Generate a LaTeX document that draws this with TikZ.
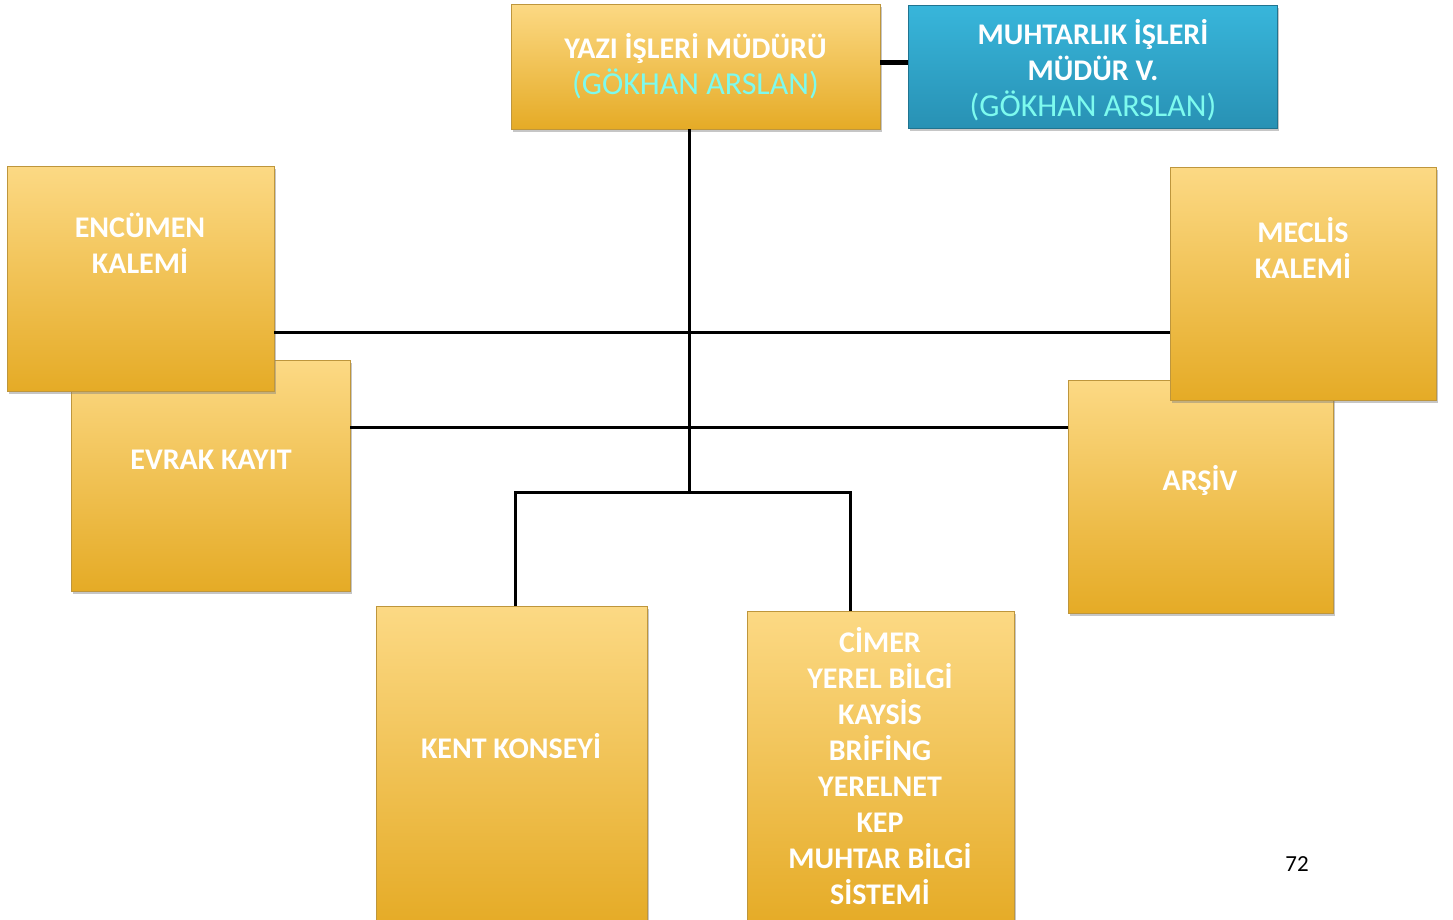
\documentclass[tikz,border=0pt]{standalone}
\usepackage{fontspec}
\setmainfont{Carlito}
\usetikzlibrary{shadows}

\definecolor{boxtop}{RGB}{252,217,132}
\definecolor{boxbot}{RGB}{229,171,38}
\definecolor{boxline}{RGB}{190,150,60}
\definecolor{bluetop}{RGB}{56,182,219}
\definecolor{bluebot}{RGB}{40,145,180}
\definecolor{namecyan}{RGB}{125,250,238}

\newcommand{\personname}[1]{{\mdseries\fontsize{32}{36}\selectfont\color{namecyan}#1}}

\tikzset{
  unitbox/.style={rectangle, draw=boxline, line width=0.8pt, top color=boxtop, bottom color=boxbot,
    drop shadow={shadow xshift=2pt, shadow yshift=-3pt, opacity=0.45}},
  bluebox/.style={unitbox, draw=bluebot!80!black, top color=bluetop, bottom color=bluebot},
  boxtext/.style={text=white, font=\bfseries\fontsize{30}{36}\selectfont, align=center},
  link/.style={line width=3pt, black},
}

\begin{document}
\begin{tikzpicture}[x=1pt,y=-1pt]
			%%%%% START %%%%%
			\useasboundingbox (0,0) rectangle (1453,919);
			
			\node[unitbox, boxtext, minimum width=369pt, minimum height=125pt] (yazi) at (695.5,66.5)
				{YAZI İŞLERİ MÜDÜRÜ\\\personname{(GÖKHAN ARSLAN)}};
			\node[bluebox, minimum width=369pt, minimum height=123pt] (muhtar) at (1092.5,66.5) {};
			\node[boxtext] (muhtar-t) at (1093,70.5)
				{MUHTARLIK İŞLERİ\\MÜDÜR V.\\\personname{(GÖKHAN ARSLAN)}};
			
			\node[unitbox, minimum width=279pt, minimum height=231pt] (evrak) at (210.5,475.5) {};
			\node[unitbox, minimum width=267pt, minimum height=225pt] (encumen) at (140.5,278.5) {};
			\node[unitbox, minimum width=265pt, minimum height=233pt] (arsiv) at (1200.5,496.5) {};
			\node[unitbox, minimum width=266pt, minimum height=233pt] (meclis) at (1303,283.5) {};
			\node[unitbox, minimum width=271pt, minimum height=320pt] (kent) at (511.5,766) {};
			\node[unitbox, minimum width=267pt, minimum height=315pt] (cimer) at (880.5,768.5) {};
			
			\node[boxtext] (encumen-t) at (140,243.5) {ENCÜMEN\\KALEMİ};
			\node[boxtext] (meclis-t) at (1303,248) {MECLİS\\KALEMİ};
			\node[boxtext] (evrak-t) at (211,459.5) {EVRAK KAYIT};
			\node[boxtext] (arsiv-t) at (1200,480.5) {ARŞİV};
			\node[boxtext] (kent-t) at (511,746.5) {KENT KONSEYİ};
			\node[boxtext] (cimer-t) at (880,766.5)
				{CİMER\\YEREL BİLGİ\\KAYSİS\\BRİFİNG\\YERELNET\\KEP\\MUHTAR BİLGİ\\SİSTEMİ};
			
			\node[font=\fontsize{23}{23}\selectfont] (page) at (1297,864) {72};
			
			% connectors
			\coordinate (tie) at (894,62);
			\coordinate (hub) at (689,492);
			\coordinate (row1) at (689,332);
			\coordinate (row2) at (689,427);
			\coordinate (left) at (515,492);
			\coordinate (right) at (850,492);
			
			\draw[link, line width=5pt] (yazi.east |- tie) -- (muhtar.west |- tie);
			\draw[link] (yazi.south -| hub) -- (hub);
			\draw[link] (encumen.east |- row1) -- (meclis.west |- row1);
			\draw[link] (evrak.east |- row2) -- (arsiv.west |- row2);
			\draw[link] (kent.north -| left) -- (left) -- (right) -- (cimer.north -| right);
			%%%%% END %%%%%
\end{tikzpicture}
\end{document}
